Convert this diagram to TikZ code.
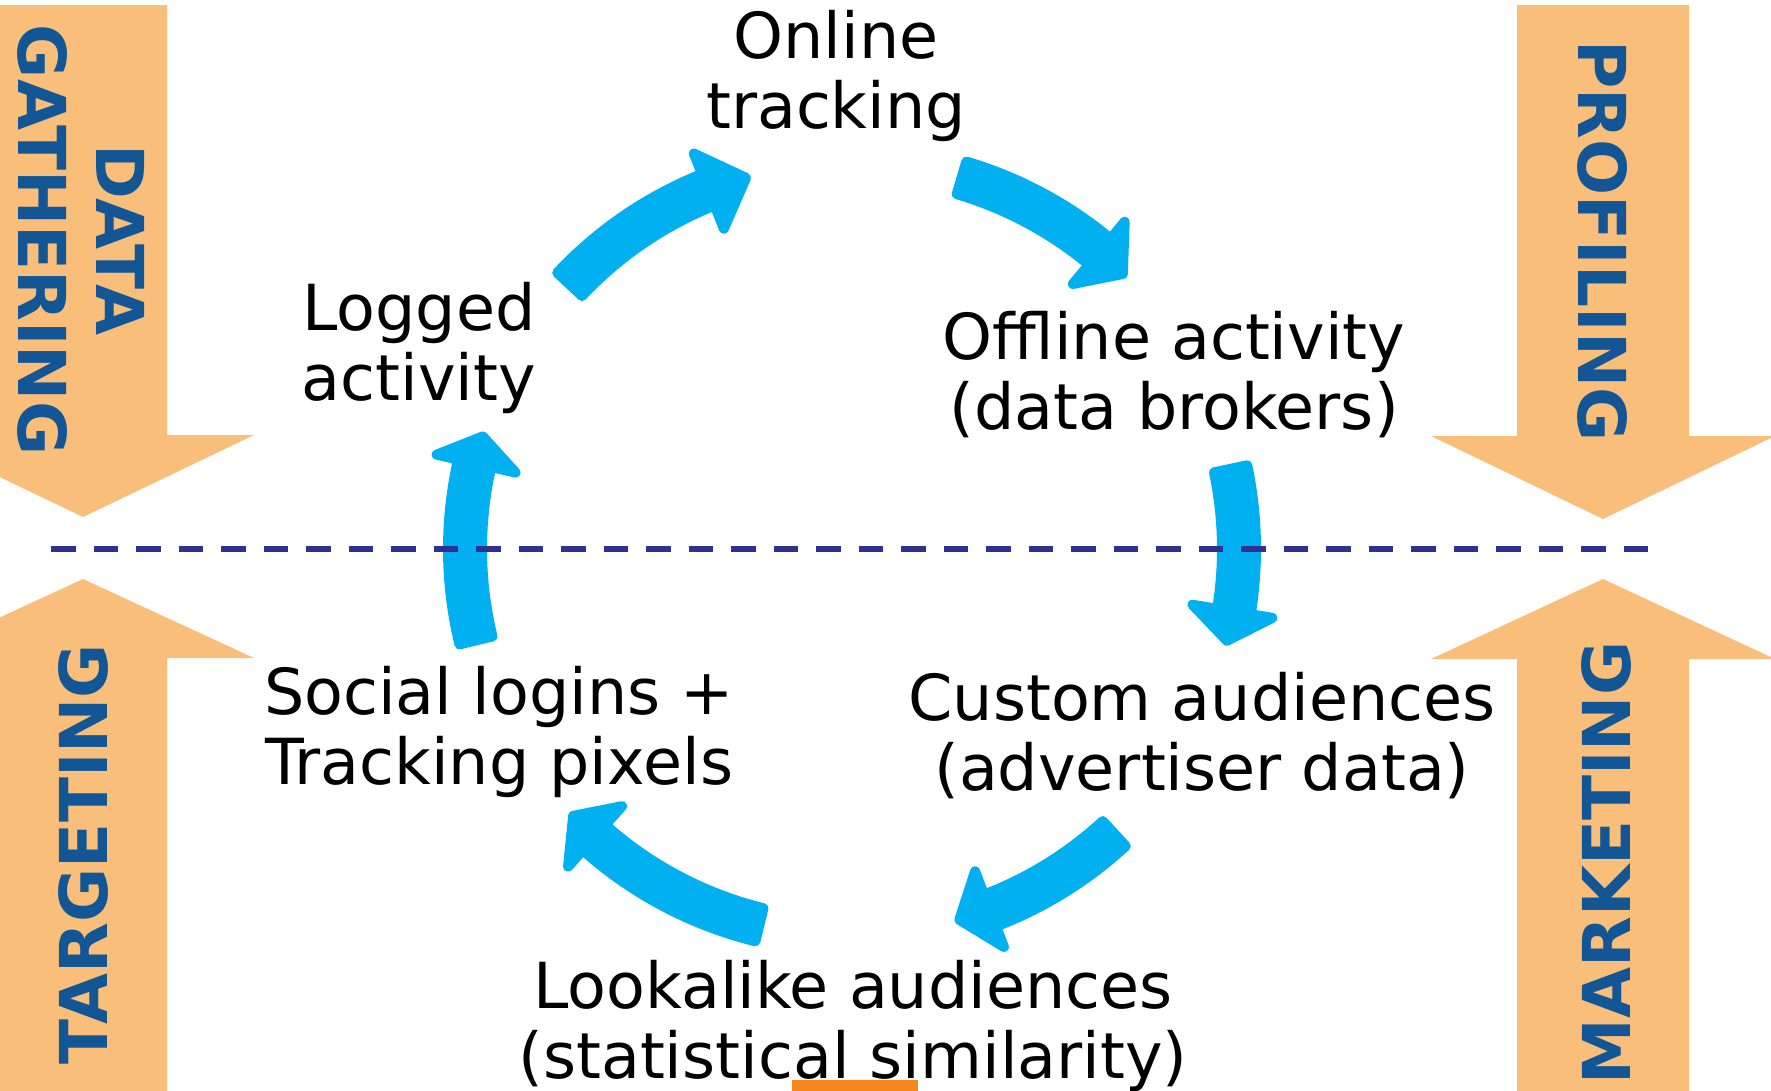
\documentclass[tikz,border=0pt]{standalone}
\usepackage{fontspec}
\setmainfont{DejaVu Sans}
\definecolor{cyc}{RGB}{0,176,240}
\definecolor{band}{RGB}{249,191,122}
\definecolor{lbl}{RGB}{18,86,150}
\definecolor{sep}{RGB}{46,49,146}
\definecolor{tag}{RGB}{247,134,30}
\tikzset{
  stage/.style={font=\fontsize{63.5}{68}\selectfont, align=center, inner sep=0pt, text=black},
  phase/.style={font=\fontsize{66}{78}\selectfont\bfseries, align=center, inner sep=0pt, text=lbl},
  bandarrow/.style={fill=band},
  cyclearrow/.style={fill=cyc, draw=cyc, line width=10pt, line join=round},
  sepline/.style={draw=sep, line width=6pt, dash pattern=on 24.5pt off 18pt}
}
\newcommand\cycarrow[3]{%
  \path[cyclearrow] (#1:404) arc[start angle=#1, end angle=#2, radius=404]
    -- (#2:426) -- (#3:386) -- (#2:345) -- (#2:370)
    arc[start angle=#2, end angle=#1, radius=370] -- cycle;}
\begin{document}
\begin{tikzpicture}[x=1pt,y=1pt]
\useasboundingbox (0,0) rectangle (1771,-1090);
\clip (0,0) rectangle (1771,-1090);
% orange phase arrows
\path[bandarrow] (-10,-5) -- (167,-5) -- (167,-435) -- (254,-435) -- (83,-517)
  -- (-88,-435) -- (-10,-435) -- cycle;
\path[bandarrow] (-10,-1100) -- (167,-1100) -- (167,-658) -- (254,-658) -- (83,-579)
  -- (-88,-658) -- (-10,-658) -- cycle;
\path[bandarrow] (1517,-5) -- (1689,-5) -- (1689,-436) -- (1775,-436) -- (1603,-519)
  -- (1431,-436) -- (1517,-436) -- cycle;
\path[bandarrow] (1517,-1100) -- (1689,-1100) -- (1689,-659) -- (1775,-659) -- (1603,-579)
  -- (1431,-659) -- (1517,-659) -- cycle;
% cycle arrows
\begin{scope}[shift={(852,-549)}]
  \cycarrow{136.86}{111.8}{105.94}
  \cycarrow{73.56}{50.2}{45.44}
  \cycarrow{11.96}{-9.3}{-13.76}
  \cycarrow{-47.34}{-69.1}{-73.86}
  \cycarrow{-103.84}{-131.8}{-136.26}
  \cycarrow{193.66}{167.2}{163.04}
\end{scope}
% separator
\coordinate (sepL) at (51,-549);
\coordinate (sepR) at (1651,-549);
\draw[sepline] (sepL) -- (sepR);
% small tag at bottom
\fill[tag] (792,-1080) rectangle (918,-1095);
% stages
\node[stage] (online) at (836,-79.3) {Online\strut\\tracking\strut};
\node[stage] (logged) at (419,-351.4) {Logged\strut\\activity\strut};
\node[stage] (offline) at (1174,-380.4) {Offline activity\strut\\(data brokers)\strut};
\node[stage] (custom) at (1202,-741.4) {Custom audiences\strut\\(advertiser data)\strut};
\node[stage] (lookalike) at (853,-1029.4) {Lookalike audiences\strut\\(statistical similarity)\strut};
\node[stage] (social) at (499,-735.4) {Social logins +\strut\\Tracking pixels\strut};
% phases
\node[phase, rotate=-90] (gathering) at (72.6,-240) {DATA\strut\\GATHERING\strut};
\node[phase, rotate=-90] (profiling) at (1593.6,-241) {PROFILING\strut};
\node[phase, rotate=90] (targeting) at (91.4,-854) {TARGETING\strut};
\node[phase, rotate=90] (marketing) at (1614.4,-863) {MARKETING\strut};
\end{tikzpicture}
\end{document}
